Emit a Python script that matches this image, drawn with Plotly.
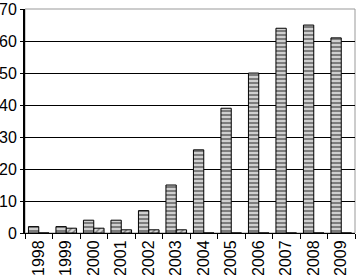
import plotly.graph_objects as go

years = ["1998","1999","2000","2001","2002","2003","2004","2005","2006","2007","2008","2009"]
series_a = [2, 2, 4, 4, 7, 15, 26, 39, 50, 64, 65, 61]
series_b = [0, 1.5, 1.5, 1, 1, 1, 0, 0, 0, 0, 0, 0]
y_ticks = [0, 10, 20, 30, 40, 50, 60, 70]

fig = go.Figure()
fig.add_bar(x=years, y=series_a, name="A",
            marker=dict(color="#cfcfcf", line=dict(color="black", width=1),
                        pattern=dict(shape="-", fgcolor="black", size=4, solidity=0.4)))
fig.add_bar(x=years, y=series_b, name="B",
            marker=dict(color="#d8d8d8", line=dict(color="black", width=1),
                        pattern=dict(shape="/", fgcolor="black", size=4, solidity=0.3)))

fig.update_layout(
    width=356, height=275,
    margin=dict(l=25, r=1, t=9, b=42, autoexpand=False),
    paper_bgcolor="white", plot_bgcolor="white",
    barmode="group", bargap=0.25, bargroupgap=0.0,
    showlegend=False,
    font=dict(family="Liberation Sans, Arial", size=16, color="black"),
    xaxis=dict(type="category", tickangle=-90, showline=True, linecolor="black",
               ticks="outside", ticklen=5, tickcolor="black", tickson="boundaries",
               showgrid=False, mirror=False, automargin=False),
    yaxis=dict(range=[0, 70.02], tickvals=y_ticks, ticklabeloverflow="allow",
               showline=True, linecolor="black",
               linewidth=2, ticks="outside", ticklen=3, tickcolor="black",
               showgrid=True, gridcolor="black", gridwidth=1, zeroline=False,
               automargin=False),
)
fig.add_shape(type="rect", xref="paper", yref="paper", x0=0, y0=0, x1=1, y1=1,
              line=dict(color="#999999", width=1), layer="below")
fig.write_html("out.html", config={"displayModeBar": False},
               post_script="document.body.style.margin='0px';")
